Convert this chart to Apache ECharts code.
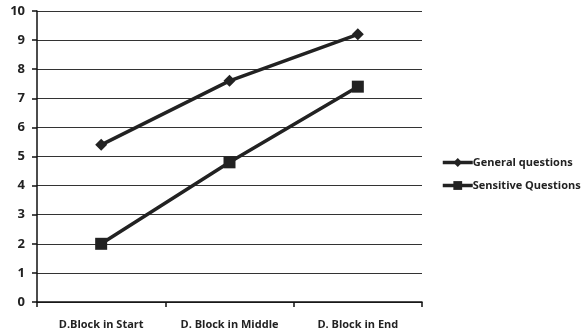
<!DOCTYPE html>
<html><head><meta charset="utf-8">
<script src="https://cdn.jsdelivr.net/npm/echarts@6/dist/echarts.min.js"></script>
<style>html,body{margin:0;padding:0;background:#fff}#c{width:584px;height:332px}</style>
</head><body><div id="c"></div>
<script>
const categories = ["D.Block in Start", "D. Block in Middle", "D. Block in End"];
const generalQuestions = [5.4, 7.6, 9.2];
const sensitiveQuestions = [2, 4.8, 7.4];
const yTicks = [0, 1, 2, 3, 4, 5, 6, 7, 8, 9, 10];

const chart = echarts.init(document.getElementById('c'), null, {renderer: 'canvas'});
const font = '"Open Sans", sans-serif';
chart.setOption({
  animation: false,
  backgroundColor: '#fff',
  grid: {left: 37, right: 162, top: 11, bottom: 30, containLabel: false},
  legend: {
    orient: 'vertical', left: 436, top: 152, itemGap: 12,
    itemWidth: 30, itemHeight: 11,
    lineStyle: {width: 3.5},
    textStyle: {fontFamily: font, fontWeight: 'bold', fontSize: 11, color: '#222', padding: [0,0,0,-5]},
    data: ['General questions', 'Sensitive Questions']
  },
  xAxis: {
    type: 'category', data: categories, boundaryGap: true,
    axisLine: {lineStyle: {color: '#111', width: 1.5}},
    axisTick: {show: true, length: 5, lineStyle: {color: '#111', width: 1.5}},
    axisLabel: {fontFamily: font, fontWeight: 'bold', fontSize: 11, color: '#222', margin: 17}
  },
  yAxis: {
    type: 'value', min: yTicks[0], max: yTicks[yTicks.length-1], interval: 1,
    axisLine: {show: true, lineStyle: {color: '#111', width: 1.5}},
    axisTick: {show: true, length: 5, lineStyle: {color: '#111', width: 1.5}},
    axisLabel: {fontFamily: font, fontWeight: 'bold', fontSize: 13, color: '#222', margin: 12},
    splitLine: {show: true, lineStyle: {color: '#333', width: 1.2}}
  },
  series: [
    {name: 'General questions', type: 'line', data: generalQuestions,
     symbol: 'diamond', symbolSize: 12,
     lineStyle: {color: '#222', width: 3.5}, itemStyle: {color: '#222'}},
    {name: 'Sensitive Questions', type: 'line', data: sensitiveQuestions,
     symbol: 'rect', symbolSize: 12,
     lineStyle: {color: '#222', width: 3.5}, itemStyle: {color: '#222'}}
  ]
});
</script></body></html>
